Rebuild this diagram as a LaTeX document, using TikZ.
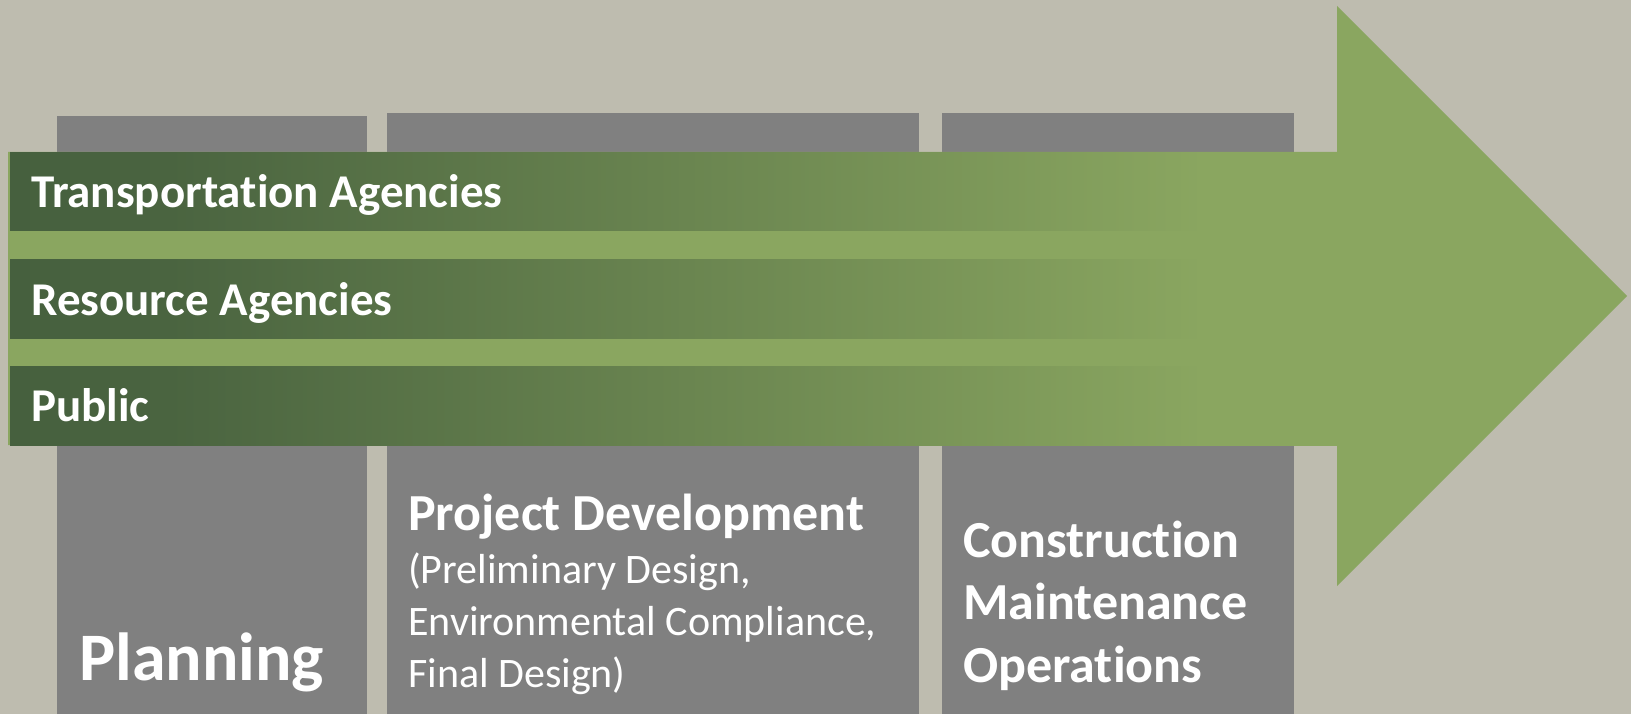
\documentclass[tikz,border=0pt]{standalone}
\usepackage{fontspec}
\setmainfont{Carlito}[Ligatures={NoCommon,NoContextual}]

\definecolor{backdrop}{HTML}{BEBCAF}
\definecolor{stagegray}{HTML}{808080}
\definecolor{leafgreen}{HTML}{8AA660}
\definecolor{darkleaf}{HTML}{46603E}
\definecolor{midleaf}{HTML}{4A6440}
\pgfdeclarehorizontalshading{lanefade}{100bp}{color(0bp)=(darkleaf); color(25bp)=(darkleaf); color(31bp)=(midleaf); color(70bp)=(leafgreen); color(100bp)=(leafgreen)}

\begin{document}
\begin{tikzpicture}[x=1pt,y=-1pt]

\tikzset{stage/.style = {fill=stagegray}}
\tikzset{lane/.style = {shading=lanefade}}
\tikzset{lanetext/.style = {anchor=base west, inner sep=0pt, text=white, font=\fontsize{47}{56}\selectfont\bfseries}}
\tikzset{stagetext/.style = {anchor=base west, inner sep=0pt, text=white}}
\useasboundingbox (0,0) rectangle (1631,714);
\fill[backdrop] (0,0) rectangle (1631,714);
%stages
\fill[stage] (57,116) rectangle (367,714);
\fill[stage] (387,113) rectangle (919,714);
\fill[stage] (942,113) rectangle (1294,714);
%arrow
\fill[leafgreen] (8,152) -- (1337,152) -- (1337,6) -- (1627,296)
  -- (1337,586) -- (1337,445) -- (8,445) -- cycle;
\fill[lane] (10,153) rectangle (1337,231);
\fill[lane] (10,260) rectangle (1337,338);
\fill[lane] (10,366) rectangle (1337,445);
%lanes
\node[lanetext] (transport) at (31,208) {Transportation Agencies};
\node[lanetext] (resource) at (31,315) {Resource Agencies};
\node[lanetext] (public) at (31,421) {Public};
%stage names (multi-line nodes sit on their last baseline)
\node[stagetext, font=\fontsize{68}{80}\selectfont\bfseries] (planning) at (79,680) {Planning};
\node[stagetext, font=\fontsize{52}{62}\selectfont\bfseries] (projdev) at (408,530) {Project Development};
\node[stagetext, align=left, font=\fontsize{42}{52}\selectfont] (projsteps) at (408,687)
  {(Preliminary Design,\\Environmental Compliance,\\Final Design)};
\node[stagetext, align=left, font=\fontsize{52}{62.5}\selectfont\bfseries] (construct) at (963,682)
  {Construction\\Maintenance\\Operations};

\end{tikzpicture}
\end{document}
